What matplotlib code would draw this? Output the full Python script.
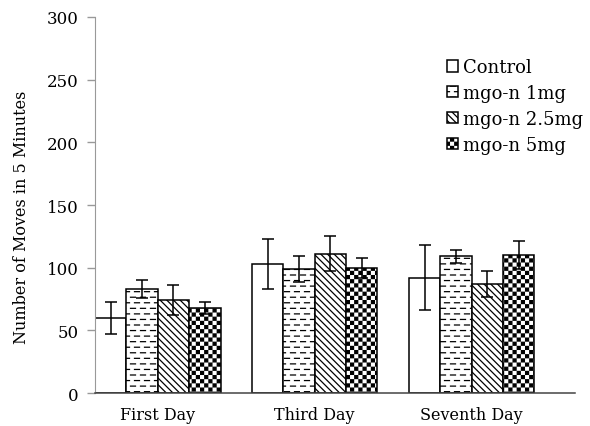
import warnings
import numpy as np
import matplotlib
matplotlib.use("Agg")
import matplotlib.pyplot as plt
import matplotlib.hatch as mhatch
from matplotlib.path import Path

warnings.filterwarnings("ignore")

days = ["First Day", "Third Day", "Seventh Day"]
groups = ["Control", "mgo-n 1mg", "mgo-n 2.5mg", "mgo-n 5mg"]
means = {
    "Control": [60, 103, 92],
    "mgo-n 1mg": [83, 99, 109],
    "mgo-n 2.5mg": [74, 111, 87],
    "mgo-n 5mg": [68, 100, 110],
}
errors = {
    "Control": [13, 20, 26],
    "mgo-n 1mg": [7, 10.5, 5],
    "mgo-n 2.5mg": [12, 14, 10],
    "mgo-n 5mg": [5, 8, 11],
}
yticks = [0, 50, 100, 150, 200, 250, 300]


class DashHatch(mhatch.HatchPatternBase):
    """Staggered rows of short horizontal dashes ('d')."""
    def __init__(self, hatch, density):
        n = hatch.count("d")
        self.rows = 18 * n
        self.cols = 10 * n
        self.num_vertices = self.rows * self.cols * 2 if n else 0

    def set_vertices_and_codes(self, vertices, codes):
        k = 0
        for i in range(self.rows):
            y = (i + 0.5) / self.rows
            off = 0.05 if i % 2 == 0 else 0.45
            for j in range(self.cols):
                x0 = (j + off) / self.cols
                vertices[k] = (x0, y)
                vertices[k + 1] = (x0 + 0.5 / self.cols, y)
                codes[k] = Path.MOVETO
                codes[k + 1] = Path.LINETO
                k += 2


class CheckerHatch(mhatch.HatchPatternBase):
    """Checkerboard of filled squares ('c')."""
    def __init__(self, hatch, density):
        n = hatch.count("c")
        self.n = 24 * n
        self.num_vertices = (self.n * self.n // 2) * 5 if n else 0

    def set_vertices_and_codes(self, vertices, codes):
        k = 0
        s = 1.0 / self.n
        ins = 0.006
        for i in range(self.n):
            for j in range(self.n):
                if (i + j) % 2:
                    continue
                x0, y0 = j * s + ins, i * s + ins
                x1, y1 = (j + 1) * s - ins, (i + 1) * s - ins
                vertices[k:k + 5] = [(x0, y0), (x1, y0), (x1, y1), (x0, y1), (x0, y0)]
                codes[k:k + 5] = [Path.MOVETO, Path.LINETO, Path.LINETO,
                                  Path.LINETO, Path.CLOSEPOLY]
                k += 5


mhatch._hatch_types.append(DashHatch)
mhatch._hatch_types.append(CheckerHatch)

plt.rcParams["font.family"] = "DejaVu Serif"
plt.rcParams["hatch.linewidth"] = 0.9
plt.rcParams["hatch.color"] = "black"

hatches = ["", "d", "\\\\\\\\\\", "c"]

fig = plt.figure(figsize=(5.9, 4.27), dpi=100)
ax = fig.add_axes([0.161, 0.077, 0.814, 0.881])

x = np.arange(len(days))
width = 0.2
for k, g in enumerate(groups):
    pos = x + (k - 1.5) * width
    ax.bar(pos, means[g], width, align="center", color="white",
           edgecolor="black", linewidth=1.1, hatch=hatches[k], label=g, zorder=2)
    ax.errorbar(pos, means[g], yerr=errors[g], fmt="none", ecolor="black",
                elinewidth=1.1, capsize=4, capthick=1.1, zorder=3)

ax.set_xlim(-0.4, 2.66)
ax.set_ylim(0, 300)
ax.set_yticks(yticks)
ax.set_xticks(x)
ax.set_xticklabels(days, fontsize=11.5)
ax.tick_params(axis="x", length=0, pad=9)
ax.tick_params(axis="y", length=6, width=1, color="#999999", labelsize=12, pad=6)

for side in ["top", "right"]:
    ax.spines[side].set_visible(False)
ax.spines["left"].set_color("#999999")
ax.spines["bottom"].set_color("#444444")
ax.spines["bottom"].set_linewidth(1.1)

ax.set_ylabel("Number of Moves in 5 Minutes", fontsize=11.5)
ax.yaxis.set_label_coords(-0.135, 0.47)

ax.legend(loc="upper left", bbox_to_anchor=(0.758, 0.861), bbox_transform=fig.transFigure,
          frameon=False, fontsize=13, handlelength=0.6, handleheight=0.6,
          handletextpad=0.25, labelspacing=0.43, borderpad=0, borderaxespad=0)

fig.savefig("out.png", dpi=100, facecolor="white")
